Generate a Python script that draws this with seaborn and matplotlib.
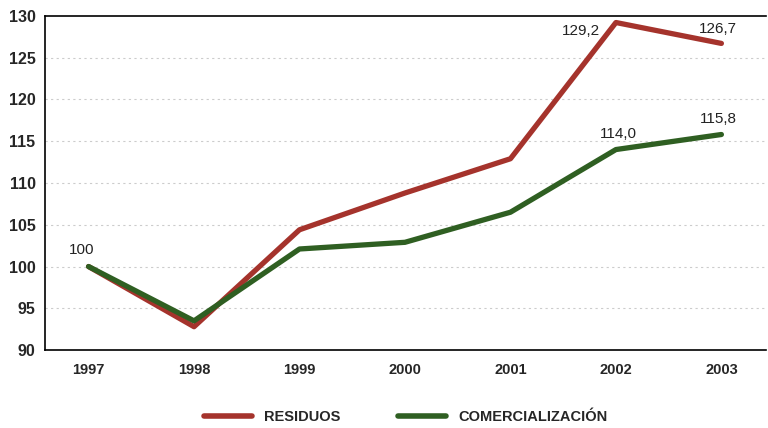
import matplotlib
matplotlib.use("Agg")
import matplotlib.pyplot as plt
import seaborn as sns
import pandas as pd

years = [1997, 1998, 1999, 2000, 2001, 2002, 2003]
residuos = [100, 92.8, 104.4, 108.8, 112.9, 129.2, 126.7]
comercializacion = [100, 93.5, 102.1, 102.9, 106.5, 114.0, 115.8]
series_names = ["RESIDUOS", "COMERCIALIZACIÓN"]
y_ticks = [90, 95, 100, 105, 110, 115, 120, 125, 130]

df = pd.DataFrame({"year": years * 2,
                   "value": residuos + comercializacion,
                   "serie": [series_names[0]] * len(years) + [series_names[1]] * len(years)})

sns.set_style("white")
plt.rcParams["font.family"] = ["Liberation Sans", "DejaVu Sans"]

fig = plt.figure(figsize=(7.68, 4.28), dpi=100)
ax = fig.add_axes([0.059, 0.182, 0.938, 0.781])

palette = {series_names[0]: "#a5332c", series_names[1]: "#2f5f22"}
sns.lineplot(data=df, x="year", y="value", hue="serie", palette=palette,
             linewidth=3.8, ax=ax, legend=True)

ax.set_xlim(1996.59, 2003.42)
ax.set_ylim(90, 130)
ax.set_xticks(years)
ax.set_xticklabels([str(y) for y in years], fontsize=10.5, fontweight="bold")
ax.set_yticks(y_ticks)
ax.set_yticklabels([str(t) for t in y_ticks], fontsize=11.5, fontweight="bold")
ax.tick_params(axis="y", length=0, pad=7)
ax.tick_params(axis="x", length=0, pad=9)
ax.set_xlabel("")
ax.set_ylabel("")

for t in y_ticks[1:-1]:
    ax.axhline(t, color="#cccccc", linewidth=0.8, linestyle=(0, (2, 3)), zorder=0)

for side in ["left", "top", "bottom"]:
    ax.spines[side].set_color("black")
    ax.spines[side].set_linewidth(1.2)
ax.spines["right"].set_visible(False)

# data labels
lab = dict(fontsize=11, color="#222222", va="center")
ax.text(1997 - 0.07, 102.0, "100", ha="center", **lab)
ax.text(2001.85, 128.2, "129,2", ha="right", **lab)
ax.text(2002.97, 128.4, "126,7", ha="center", **lab)
ax.text(2002.02, 115.9, "114,0", ha="center", **lab)
ax.text(2002.97, 117.7, "115,8", ha="center", **lab)

handles, labels = ax.get_legend_handles_labels()
leg = ax.legend(handles, labels, loc="upper center", bbox_to_anchor=(0.5, -0.14),
                ncol=2, frameon=False, handlelength=3.3, columnspacing=4,
                prop={"weight": "bold", "size": 10.5})
for line in leg.get_lines():
    line.set_linewidth(4)

fig.savefig("out.png", dpi=100)
